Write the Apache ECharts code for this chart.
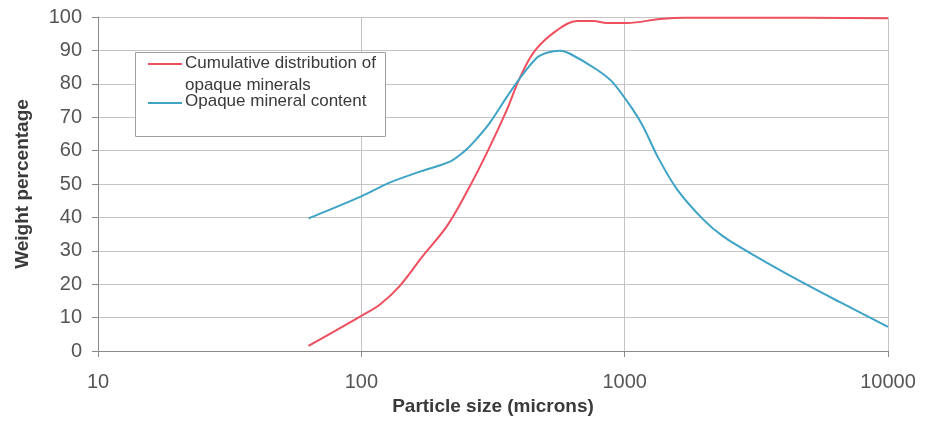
<!DOCTYPE html>
<html>
<head>
<meta charset="utf-8">
<script src="https://cdn.jsdelivr.net/npm/echarts@6/dist/echarts.min.js"></script>
<style>
  html, body { margin: 0; padding: 0; background: #fff; }
  #chart { width: 931px; height: 421px; }
</style>
</head>
<body>
<div id="chart"></div>
<script>
// Particle sizes (microns) and weight percentages for each curve
const cumulativeSizes = [63, 100, 118, 140, 171, 211, 251, 300, 357, 401, 457, 553, 660, 760, 857, 1021, 1362, 1700, 3000, 10000];
const cumulativeValues = [1.5, 10.5, 14, 19.5, 28.4, 37.3, 47.5, 59.4, 72.2, 82, 90, 96, 98.8, 98.8, 98.2, 98.2, 99.4, 99.8, 99.8, 99.6];

const contentSizes = [63, 100, 128, 167, 217, 243, 266, 308, 357, 401, 464, 507, 568, 620, 785, 904, 1076, 1175, 1340, 1581, 1986, 2366, 3184, 4636, 6577, 10000];
const contentValues = [39.7, 46.3, 50.4, 53.7, 56.7, 59.4, 62.4, 68.4, 76.1, 81.8, 87.8, 89.3, 89.9, 89, 84.2, 80.3, 72.2, 67.2, 57.9, 48.4, 39.4, 34.3, 28.1, 20.9, 14.6, 7.2];

const seriesNames = ['Cumulative distribution of\nopaque minerals', 'Opaque mineral content'];
const xAxisTitle = 'Particle size (microns)';
const yAxisTitle = 'Weight percentage';

const RED = '#ee4f5e';
const BLUE = '#3fa3c6';

const pairs = (xs, ys) => xs.map((x, i) => [x, ys[i]]);

const chart = echarts.init(document.getElementById('chart'));
const font = 'Liberation Sans, Arial, sans-serif';

chart.setOption({
  animation: false,
  grid: { left: 98, right: 43, top: 17, bottom: 69 },
  xAxis: {
    type: 'log',
    logBase: 10,
    min: 10,
    max: 10000,
    name: xAxisTitle,
    nameLocation: 'middle',
    nameGap: 46,
    nameTextStyle: { fontFamily: font, fontSize: 19, fontWeight: 'bold', color: '#3a3a3a' },
    axisLine: { show: true, lineStyle: { color: '#8a8a8a', width: 1 } },
    axisTick: { show: true, length: 6, lineStyle: { color: '#8a8a8a' } },
    axisLabel: {
      fontFamily: font, fontSize: 20, color: '#555', margin: 21,
      formatter: v => String(Math.round(v))
    },
    splitLine: { show: true, lineStyle: { color: '#c4c4c4', width: 1 } },
    minorTick: { show: false },
    minorSplitLine: { show: false }
  },
  yAxis: {
    type: 'value',
    min: 0,
    max: 100,
    interval: 10,
    name: yAxisTitle,
    nameLocation: 'middle',
    nameGap: 66,
    nameRotate: 90,
    nameTextStyle: { fontFamily: font, fontSize: 19, fontWeight: 'bold', color: '#3a3a3a' },
    axisLine: { show: true, lineStyle: { color: '#8a8a8a', width: 1 } },
    axisTick: { show: true, length: 6, lineStyle: { color: '#8a8a8a' } },
    axisLabel: { fontFamily: font, fontSize: 20, color: '#555', margin: 16 },
    splitLine: { show: true, lineStyle: { color: '#c4c4c4', width: 1 } }
  },
  series: [
    {
      name: seriesNames[0],
      type: 'line',
      data: pairs(cumulativeSizes, cumulativeValues),
      smooth: 0.35,
      symbol: 'none',
      lineStyle: { color: RED, width: 2 },
      z: 2
    },
    {
      name: seriesNames[1],
      type: 'line',
      data: pairs(contentSizes, contentValues),
      smooth: 0.3,
      symbol: 'none',
      lineStyle: { color: BLUE, width: 2 },
      z: 3
    }
  ],
  // Boxed legend in the upper-left of the plot
  graphic: [
    {
      type: 'rect',
      shape: { x: 135.5, y: 52.5, width: 250, height: 84 },
      style: { fill: '#fff', stroke: '#a0a0a0', lineWidth: 1 },
      z: 10
    },
    {
      type: 'line',
      shape: { x1: 148, y1: 64, x2: 182, y2: 64 },
      style: { stroke: RED, lineWidth: 2 },
      z: 11
    },
    {
      type: 'text',
      x: 185, y: 63,
      style: { text: seriesNames[0].split('\n')[0], font: '17px ' + font, fill: '#3a3a3a', verticalAlign: 'middle' },
      z: 11
    },
    {
      type: 'text',
      x: 185, y: 85,
      style: { text: seriesNames[0].split('\n')[1], font: '17px ' + font, fill: '#3a3a3a', verticalAlign: 'middle' },
      z: 11
    },
    {
      type: 'line',
      shape: { x1: 148, y1: 103, x2: 182, y2: 103 },
      style: { stroke: BLUE, lineWidth: 2 },
      z: 11
    },
    {
      type: 'text',
      x: 185, y: 101,
      style: { text: seriesNames[1], font: '17px ' + font, fill: '#3a3a3a', verticalAlign: 'middle' },
      z: 11
    }
  ]
});
</script>
</body>
</html>
